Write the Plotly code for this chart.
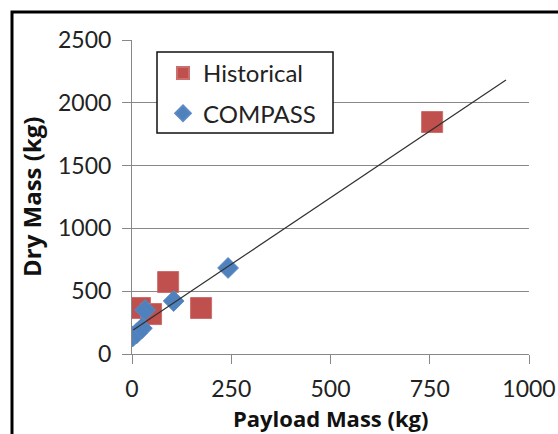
import plotly.graph_objects as go

# Spacecraft mass data
hist_payload = [20, 48, 91, 174, 756]
hist_dry = [366, 318, 573, 366, 1847]

compass_payload = [2, 12, 25, 33, 105, 242]
compass_dry = [140, 165, 205, 350, 422, 685]

# Linear trend line end points
fit_payload = [3, 942]
fit_dry = [191, 2181]

x_ticks = [0, 250, 500, 750, 1000]
y_ticks = [0, 500, 1000, 1500, 2000, 2500]

RED = "#C0504D"
BLUE = "#4F81BD"
GRID = "#888888"
FONT = "Lato, Open Sans, sans-serif"
TITLE_FONT = "Open Sans, Lato, sans-serif"

# plot area in pixels: x 132..529, y 40..354
L, R, T, B = 132, 529, 40, 354
def px(v):
    return (v - L) / (R - L)
def py(v):
    return (B - v) / (B - T)

fig = go.Figure()

fig.add_trace(go.Scatter(
    x=hist_payload, y=hist_dry, mode="markers", name="Historical",
    marker=dict(symbol="square", size=21, color=RED,
                line=dict(color="#CB6F6C", width=1)),
    legendgroup="h",
))
fig.add_trace(go.Scatter(
    x=compass_payload, y=compass_dry, mode="markers", name="COMPASS",
    marker=dict(symbol="diamond", size=16, color=BLUE,
                line=dict(color="#5B8AC2", width=1)),
    legendgroup="c",
))
fig.add_trace(go.Scatter(
    x=fit_payload, y=fit_dry, mode="lines",
    line=dict(color="#303030", width=1.2),
    showlegend=False, hoverinfo="skip",
))

fig.update_layout(
    width=558, height=434,
    margin=dict(l=L, r=558 - R, t=T, b=434 - B, autoexpand=False),
    paper_bgcolor="white", plot_bgcolor="white",
    font=dict(family=FONT, size=23, color="#222222"),
    showlegend=True,
    legend=dict(
        x=px(163), y=py(51), xanchor="left", yanchor="top",
        bgcolor="rgba(0,0,0,0)", borderwidth=0,
        font=dict(size=24, color="#222222"),
        traceorder="grouped", tracegroupgap=6,
        itemsizing="constant",
    ),
    xaxis=dict(
        range=[0, 1000], tickvals=x_ticks, ticktext=[str(v) for v in x_ticks],
        showgrid=False, zeroline=False, automargin=False,
        showline=True, linecolor=GRID, linewidth=1,
        ticks="outside", ticklen=9, tickcolor=GRID, ticklabelstandoff=5,
    ),
    yaxis=dict(
        range=[0, 2500], tickvals=y_ticks, ticktext=[str(v) for v in y_ticks],
        showgrid=True, gridcolor=GRID, gridwidth=1, zeroline=False, automargin=False,
        showline=True, linecolor=GRID, linewidth=1,
        ticks="outside", ticklen=9, tickcolor=GRID, ticklabelstandoff=6,
    ),
    annotations=[
        dict(text="<b>Payload Mass (kg)</b>", xref="paper", yref="paper",
             x=0.5, y=py(418), xanchor="center", yanchor="middle",
             showarrow=False,
             font=dict(family=TITLE_FONT, size=22, color="#111111")),
        dict(text="<b>Dry Mass (kg)</b>", xref="paper", yref="paper",
             x=px(31), y=0.5, xanchor="center", yanchor="middle",
             textangle=-90, showarrow=False,
             font=dict(family=TITLE_FONT, size=24, color="#111111")),
    ],
    shapes=[
        # legend box
        dict(type="rect", xref="paper", yref="paper",
             x0=px(157), x1=px(333), y0=py(133), y1=py(52),
             line=dict(color="#111111", width=1.5), fillcolor="white",
             layer="above"),
        # outer frame
        dict(type="rect", xref="paper", yref="paper",
             x0=px(12), x1=px(600), y0=py(480), y1=py(12),
             line=dict(color="black", width=3), fillcolor="rgba(0,0,0,0)",
             layer="above"),
    ],
)

fig.write_html("out.html")
